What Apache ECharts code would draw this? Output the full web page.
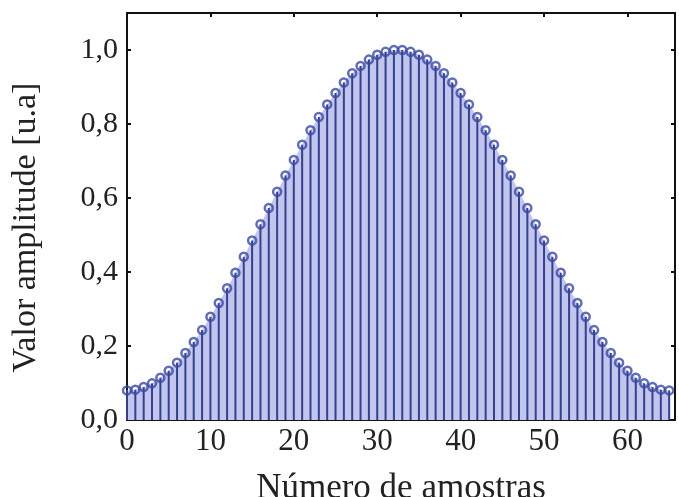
<!DOCTYPE html>
<html><head><meta charset="utf-8">
<script src="https://cdn.jsdelivr.net/npm/echarts@6/dist/echarts.min.js"></script>
<style>html,body{margin:0;padding:0;background:#fff}#c{width:679px;height:497px}</style>
</head><body><div id="c"></div>
<script>
var samples = [];
for (var i = 0; i <= 65; i++) samples.push(i);
var amplitudeFirstHalf = [0.080,0.082,0.089,0.099,0.114,0.133,0.155,0.181,0.211,0.243,0.279,0.316,0.356,0.398,0.441,0.485,0.529,0.573,0.617,0.661,0.703,0.744,0.783,0.819,0.853,0.884,0.912,0.937,0.957,0.974,0.987,0.995,1.000];
var amplitudeSecondHalf = [1.000,0.995,0.987,0.974,0.957,0.937,0.912,0.884,0.853,0.819,0.783,0.744,0.703,0.661,0.617,0.573,0.529,0.485,0.441,0.398,0.356,0.316,0.279,0.243,0.211,0.181,0.155,0.133,0.114,0.099,0.089,0.082,0.080];
var amplitude = amplitudeFirstHalf.concat(amplitudeSecondHalf);
var xTicks = [0,10,20,30,40,50,60];
var yTicks = [0,0.2,0.4,0.6,0.8,1.0];
var xAxisTitle = 'Número de amostras';
var yAxisTitle = 'Valor amplitude [u.a]';

var pts = samples.map(function(x, i){ return [x, amplitude[i]]; });
var font = 'Liberation Serif';
function isTick(v, arr){ return arr.some(function(t){ return Math.abs(t - v) < 1e-6; }); }
var axisBase = {
  axisLine:{show:true, onZero:false, lineStyle:{color:'#111', width:2}},
  axisTick:{show:true, inside:true, length:4, lineStyle:{color:'#111', width:2}},
  splitLine:{show:false}
};
var chart = echarts.init(document.getElementById('c'), null, {renderer:'canvas'});
chart.setOption({
  animation:false,
  backgroundColor:'#fff',
  grid:{left:127, right:4, top:13, bottom:77, containLabel:false, outerBoundsMode:'none'},
  xAxis:[
    Object.assign({}, axisBase, {type:'value', min:0, max:65.7, interval:10, position:'bottom',
      name:xAxisTitle, nameLocation:'middle', nameGap:51,
      nameTextStyle:{fontFamily:font, fontSize:35, color:'#222'},
      axisLabel:{fontFamily:font, fontSize:31, color:'#222', margin:6,
        formatter:function(v){ return isTick(v, xTicks) ? String(v) : ''; }}}),
    Object.assign({}, axisBase, {type:'value', min:0, max:65.7, interval:10, position:'top', axisLabel:{show:false}})
  ],
  yAxis:[
    Object.assign({}, axisBase, {type:'value', min:0, max:1.1, interval:0.2, position:'left',
      name:yAxisTitle, nameLocation:'middle', nameGap:84, nameRotate:90,
      nameTextStyle:{fontFamily:font, fontSize:34, color:'#222', padding:[0,22,0,0]},
      axisLabel:{fontFamily:font, fontSize:30, color:'#222', margin:9, padding:[0,0,10,0],
        formatter:function(v){ return isTick(v, yTicks) ? v.toFixed(1).replace('.', ',') : ''; }}}),
    Object.assign({}, axisBase, {type:'value', min:0, max:1.1, interval:0.2, position:'right', axisLabel:{show:false}})
  ],
  series:[
    {type:'line', data:pts, symbol:'none', lineStyle:{width:0}, areaStyle:{color:'#c2c5ee', opacity:1}, z:1},
    {type:'bar', data:pts, barWidth:2, itemStyle:{color:'#34418f'}, z:2},
    {type:'scatter', data:pts, symbol:'circle', symbolSize:8,
      itemStyle:{color:'rgba(0,0,0,0)', borderColor:'#3a49a3', borderWidth:2.5}, z:3}
  ]
});
</script></body></html>
